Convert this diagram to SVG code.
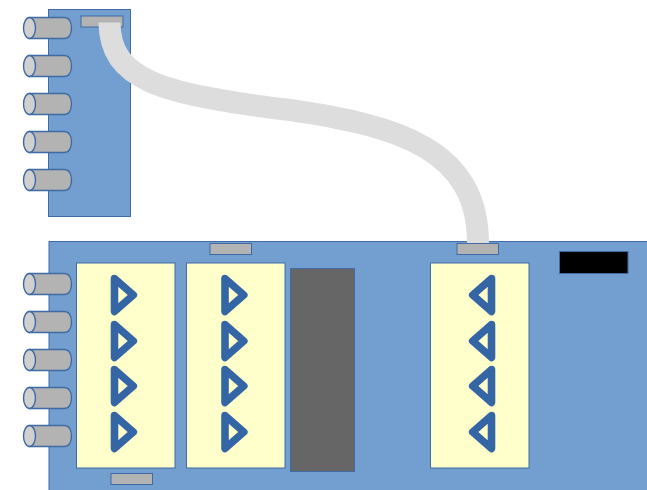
<svg xmlns="http://www.w3.org/2000/svg" width="647" height="490" viewBox="0 0 647 490">
<style>
.board{fill:#729fcf;stroke:#3f6aa3;stroke-width:1}
.panel{fill:#ffffcc;stroke:#3f6aa3;stroke-width:1}
.slot{fill:#b3b3b3;stroke:#3f6aa3;stroke-width:1}
.tri{fill:none;stroke:#3465a4;stroke-width:7.600;stroke-linejoin:round}
.body{fill:#b3b3b3;stroke:#3f6aa3;stroke-width:1.4}
.cap{fill:#d0d0d0;stroke:#3f6aa3;stroke-width:1.400}
</style>
<defs>
<g id="plug"><path class="body" d="M29.5 0H64C69 0 71.500 4.500 71.500 10.500S69 21 64 21H29.500Z"/><ellipse class="cap" cx="29.500" cy="10.500" rx="6" ry="10.500"/></g>
<path id="tr" class="tri" d="M114.500 -16.500L133.300 0L114.500 16.500Z"/>
<path id="tl" class="tri" d="M491.500 -16.500L472.700 0L491.500 16.500Z"/>
</defs>
<g id="board-top">
<rect class="board" x="48.500" y="9.500" width="82" height="207"/>
<rect class="slot" x="81" y="16" width="42" height="11"/>
</g>
<g id="board-bottom">
<rect class="board" x="49" y="241.500" width="599" height="249"/>
<rect class="slot" x="210" y="243.500" width="41.500" height="11"/>
<rect class="slot" x="457" y="243.500" width="41.500" height="11"/>
<rect class="slot" x="111" y="473.500" width="41.500" height="11"/>
<rect x="559.500" y="251.500" width="68.500" height="22" fill="#000" stroke="#3f6aa3"/>
</g>
<g id="plugs-top">
<use href="#plug" y="17.500"/><use href="#plug" y="55.500"/><use href="#plug" y="93.500"/><use href="#plug" y="131.500"/><use href="#plug" y="169.500"/>
</g>
<g id="plugs-bottom">
<use href="#plug" y="273.500"/><use href="#plug" y="311.500"/><use href="#plug" y="349.500"/><use href="#plug" y="387.500"/><use href="#plug" y="425.500"/>
</g>
<g id="panel-1">
<rect class="panel" x="76.500" y="263" width="98.500" height="205"/>
<use href="#tr" y="295"/><use href="#tr" y="341"/><use href="#tr" y="386"/><use href="#tr" y="432"/>
</g>
<g id="panel-2">
<rect class="panel" x="186.500" y="263" width="98.500" height="205"/>
<use href="#tr" x="110.500" y="295"/><use href="#tr" x="110.500" y="341"/><use href="#tr" x="110.500" y="386"/><use href="#tr" x="110.500" y="432"/>
</g>
<g id="chip"><rect x="290.500" y="268.500" width="64" height="203" fill="#666" stroke="#3f6aa3"/></g>
<g id="panel-3">
<rect class="panel" x="430.500" y="263" width="98.500" height="205"/>
<use href="#tl" y="295"/><use href="#tl" y="341"/><use href="#tl" y="386"/><use href="#tl" y="432"/>
</g>
<g id="connectors">
<path d="M109.500 22.500C110 80 160 94 290 110C400 126 478 150 478 243" fill="none" stroke="#dddddd" stroke-width="22"/>
</g>
</svg>
